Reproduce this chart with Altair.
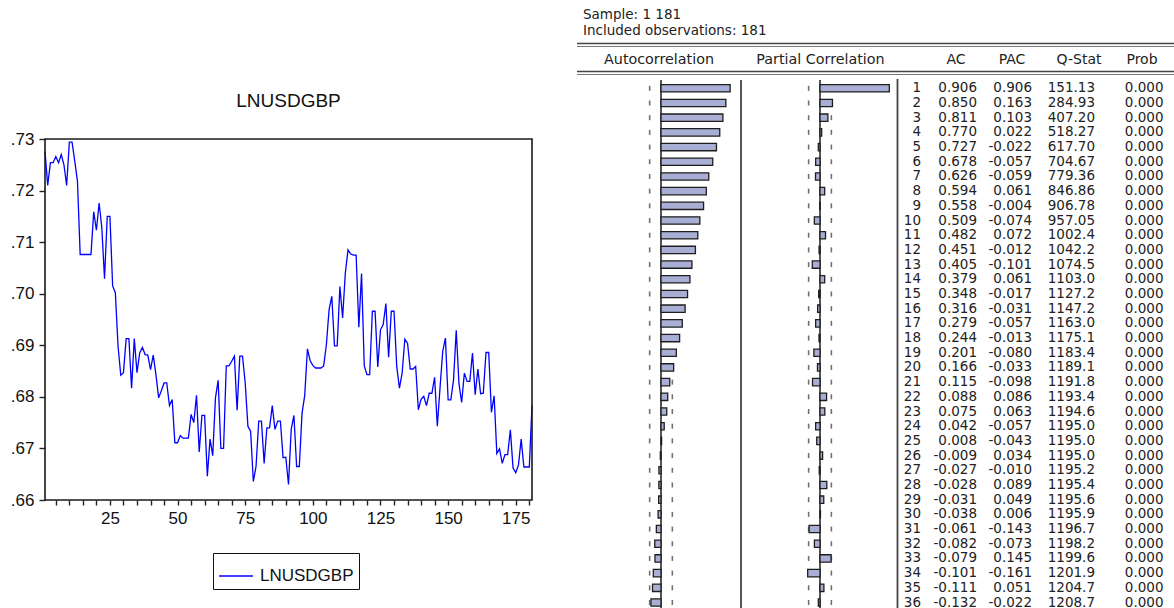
import math
import altair as alt
import pandas as pd

# ---------------------------------------------------------------------------
# Series: LNUSDGBP, observations 1..181
# ---------------------------------------------------------------------------
LNUSDGBP = [
    0.7276, 0.7210, 0.7254, 0.7254, 0.7266, 0.7254, 0.7270, 0.7250, 0.7210, 0.7294,
    0.7294, 0.7257, 0.7218, 0.7076, 0.7076, 0.7076, 0.7076, 0.7076, 0.7159, 0.7123,
    0.7176, 0.7128, 0.7029, 0.7150, 0.7150, 0.7015, 0.7002, 0.6898, 0.6842, 0.6847,
    0.6913, 0.6913, 0.6817, 0.6913, 0.6847, 0.6885, 0.6896, 0.6882, 0.6881, 0.6853,
    0.6881, 0.6843, 0.6798, 0.6812, 0.6827, 0.6827, 0.6783, 0.6795, 0.6711, 0.6711,
    0.6725, 0.6720, 0.6720, 0.6720, 0.6766, 0.6750, 0.6803, 0.6693, 0.6764, 0.6764,
    0.6646, 0.6718, 0.6686, 0.6798, 0.6832, 0.6700, 0.6700, 0.6860, 0.6860, 0.6869,
    0.6879, 0.6774, 0.6879, 0.6879, 0.6827, 0.6743, 0.6733, 0.6636, 0.6665, 0.6753,
    0.6753, 0.6671, 0.6740, 0.6740, 0.6783, 0.6737, 0.6753, 0.6753, 0.6682, 0.6683,
    0.6630, 0.6737, 0.6764, 0.6665, 0.6665, 0.6768, 0.6803, 0.6893, 0.6870, 0.6861,
    0.6856, 0.6856, 0.6856, 0.6860, 0.6901, 0.6969, 0.6995, 0.6899, 0.6899, 0.7014,
    0.6953, 0.7040, 0.7085, 0.7077, 0.7075, 0.7075, 0.6935, 0.7039, 0.6860, 0.6843,
    0.6843, 0.6966, 0.6966, 0.6858, 0.6930, 0.6940, 0.6981, 0.6877, 0.6966, 0.6966,
    0.6859, 0.6817, 0.6846, 0.6912, 0.6904, 0.6854, 0.6854, 0.6859, 0.6775, 0.6795,
    0.6801, 0.6783, 0.6807, 0.6807, 0.6838, 0.6743, 0.6817, 0.6888, 0.6914, 0.6794,
    0.6794, 0.6833, 0.6929, 0.6826, 0.6789, 0.6846, 0.6830, 0.6830, 0.6885, 0.6804,
    0.6854, 0.6806, 0.6807, 0.6886, 0.6886, 0.6770, 0.6802, 0.6690, 0.6699, 0.6671,
    0.6688, 0.6688, 0.6736, 0.6662, 0.6653, 0.6668, 0.6718, 0.6664, 0.6664, 0.6664,
    0.6783,
]
OBS = list(range(1, len(LNUSDGBP) + 1))

X_TICKS = list(range(5, 181, 5))
X_LABELLED = [25, 50, 75, 100, 125, 150, 175]
Y_TICKS = [0.66, 0.67, 0.68, 0.69, 0.70, 0.71, 0.72, 0.73]

# ---------------------------------------------------------------------------
# Correlogram of LNUSDGBP
# ---------------------------------------------------------------------------
LAGS = list(range(1, 37))
AC = [0.906, 0.850, 0.811, 0.770, 0.727, 0.678, 0.626, 0.594, 0.558, 0.509,
      0.482, 0.451, 0.405, 0.379, 0.348, 0.316, 0.279, 0.244, 0.201, 0.166,
      0.115, 0.088, 0.075, 0.042, 0.008, -0.009, -0.027, -0.028, -0.031, -0.038,
      -0.061, -0.082, -0.079, -0.101, -0.111, -0.132]
PAC = [0.906, 0.163, 0.103, 0.022, -0.022, -0.057, -0.059, 0.061, -0.004, -0.074,
       0.072, -0.012, -0.101, 0.061, -0.017, -0.031, -0.057, -0.013, -0.080, -0.033,
       -0.098, 0.086, 0.063, -0.057, -0.043, 0.034, -0.010, 0.089, 0.049, 0.006,
       -0.143, -0.073, 0.145, -0.161, 0.051, -0.022]
QSTAT = [151.13, 284.93, 407.20, 518.27, 617.70, 704.67, 779.36, 846.86, 906.78, 957.05,
         1002.4, 1042.2, 1074.5, 1103.0, 1127.2, 1147.2, 1163.0, 1175.1, 1183.4, 1189.1,
         1191.8, 1193.4, 1194.6, 1195.0, 1195.0, 1195.0, 1195.2, 1195.4, 1195.6, 1195.9,
         1196.7, 1198.2, 1199.6, 1201.9, 1204.7, 1208.7]
PROB = [0.000] * 36

N_OBS = 181
BAND = 2 / math.sqrt(N_OBS)   # approximate 2 s.e. bounds

# ---------------------------------------------------------------------------
# Styling
# ---------------------------------------------------------------------------
W, H = 1174, 608
PLOT_FONT = "Liberation Sans"
TABLE_FONT = "DejaVu Sans"
TXT = "#222222"
BAR_FILL = "#A9AFD4"
BAR_EDGE = "#1e1e1e"
HIDDEN = alt.Axis(labels=False, ticks=False, domain=False, grid=False, title="")
# d3-format writes a typographic minus; the table uses a plain hyphen
MINUS = "\u2212"


def label(text, x, y, size, align="center", font=TABLE_FONT, color=TXT):
    return alt.Chart(pd.DataFrame({"t": [text]})).mark_text(
        align=align, baseline="middle", fontSize=size, font=font, color=color
    ).encode(x=alt.value(x), y=alt.value(y), text="t:N")


def hline(x0, x1, y, width, color):
    return alt.Chart(pd.DataFrame({"t": [0]})).mark_rule(
        strokeWidth=width, color=color
    ).encode(x=alt.value(x0), x2=alt.value(x1), y=alt.value(y))


def vline(x, y0, y1, width, color):
    return alt.Chart(pd.DataFrame({"t": [0]})).mark_rule(
        strokeWidth=width, color=color
    ).encode(x=alt.value(x), y=alt.value(y0), y2=alt.value(y1))


# ---------------------------------------------------------------------------
# Left panel: line plot
# ---------------------------------------------------------------------------
series_df = pd.DataFrame({"obs": OBS, "value": LNUSDGBP, "series": "LNUSDGBP"})
x_line = alt.Scale(domain=[1, 181], range=[45, 532], nice=False, zero=False)
y_line = alt.Scale(domain=[0.66, 0.73], range=[500, 139], nice=False, zero=False)

labelled = ", ".join(str(v) for v in X_LABELLED)
x_axis = alt.Axis(
    orient="bottom", offset=-108, values=X_TICKS, title="",
    labelExpr=f"indexof([{labelled}], datum.value) >= 0 ? datum.label : ''",
    domain=False, grid=False, tickSize=5, tickWidth=1.4, tickColor="#222",
    labelFont=PLOT_FONT, labelFontSize=17, labelColor="#111",
    labelPadding=5, labelFlush=False, labelOverlap=False, labelBound=False,
)
y_axis = alt.Axis(
    orient="left", offset=-45, values=Y_TICKS, title="",
    labelExpr="substring(format(datum.value, '.2f'), 1)",
    domain=False, grid=False, tickSize=6, tickWidth=1.4, tickColor="#222",
    labelFont=PLOT_FONT, labelFontSize=17, labelColor="#111",
    labelPadding=5, labelFlush=False, labelOverlap=False, labelBound=False,
)

line = alt.Chart(series_df).mark_line(strokeWidth=1.3).encode(
    x=alt.X("obs:Q", scale=x_line, axis=x_axis),
    y=alt.Y("value:Q", scale=y_line, axis=y_axis),
    color=alt.Color(
        "series:N", scale=alt.Scale(range=["#0000FF"]),
        legend=alt.Legend(
            title=None, orient="none", legendX=213, legendY=553,
            direction="horizontal", symbolType="stroke", symbolSize=1150,
            symbolStrokeWidth=1.5, labelFont=PLOT_FONT, labelFontSize=17,
            labelColor="#111", labelOffset=6, padding=5,
            strokeColor="#111", fillColor="white",
        ),
    ),
)

frame_df = pd.DataFrame({"obs": [1], "obs_end": [181], "value": [0.66], "value_end": [0.73]})
frame = alt.Chart(frame_df).mark_rect(
    fillOpacity=0, stroke="#1a1a1a", strokeWidth=1.6
).encode(
    x=alt.X("obs:Q", scale=x_line, axis=x_axis),
    x2="obs_end:Q",
    y=alt.Y("value:Q", scale=y_line, axis=y_axis),
    y2="value_end:Q",
)

plot_title = label("LNUSDGBP", 288.5, 101, 19, font=PLOT_FONT, color="#111")

left_panel = alt.layer(line, frame, plot_title)

# ---------------------------------------------------------------------------
# Right panel: correlogram table
# ---------------------------------------------------------------------------
corr_df = pd.DataFrame({"lag": LAGS, "ac": AC, "pac": PAC, "q": QSTAT, "prob": PROB})
band_df = pd.DataFrame({
    "lag": LAGS * 2,
    "band": [-BAND] * len(LAGS) + [BAND] * len(LAGS),
})
zero_df = pd.DataFrame({"z": [0.0]})
row_scale = alt.Scale(domain=[1, 36], range=[88.3, 602.5], nice=False, zero=False)


def corr_column(field, center, half_width):
    xs = alt.Scale(domain=[-1, 1], range=[center - half_width, center + half_width],
                   nice=False, zero=False)
    ticks = alt.Chart(band_df).mark_tick(
        orient="vertical", size=5, thickness=1.6, color="#333"
    ).encode(
        x=alt.X("band:Q", scale=xs, axis=HIDDEN),
        y=alt.Y("lag:Q", scale=row_scale, axis=HIDDEN),
    )
    zero_line = alt.Chart(zero_df).mark_rule(strokeWidth=1.6, color="#2a2a2a").encode(
        x=alt.X("z:Q", scale=xs, axis=HIDDEN), y=alt.value(80), y2=alt.value(H)
    )
    bars = alt.Chart(corr_df).transform_calculate(
        base="0", lo="datum.lag - 0.25", hi="datum.lag + 0.25"
    ).mark_rect(fill=BAR_FILL, stroke=BAR_EDGE, strokeWidth=1.3).encode(
        x=alt.X(f"{field}:Q", scale=xs, axis=HIDDEN),
        x2="base:Q",
        y=alt.Y("lo:Q", scale=row_scale, axis=HIDDEN),
        y2="hi:Q",
    )
    return [ticks, zero_line, bars]


def number_column(expr, x_right):
    return alt.Chart(corr_df).transform_calculate(
        s=f"replace({expr}, '{MINUS}', '-')"
    ).mark_text(
        align="right", baseline="middle", font=TABLE_FONT, fontSize=13.5, color=TXT
    ).encode(
        x=alt.value(x_right),
        y=alt.Y("lag:Q", scale=row_scale, axis=HIDDEN),
        text="s:N",
    )


numbers = [
    number_column("format(datum.lag, 'd')", 921),
    number_column("format(datum.ac, '.3f')", 977),
    number_column("format(datum.pac, '.3f')", 1032),
    number_column("datum.q >= 1000 ? format(datum.q, '.1f') : format(datum.q, '.2f')", 1095),
    number_column("format(datum.prob, '.3f')", 1163.5),
]

table_frame = [
    label("Sample: 1 181", 583, 15, 13.5, align="left"),
    label("Included observations: 181", 583, 30.5, 13.5, align="left"),
    hline(577, W, 43.5, 1.6, "#444"),
    hline(577, W, 46.5, 1.0, "#777"),
    label("Autocorrelation", 659, 60, 14.3),
    label("Partial Correlation", 820.5, 60, 14.3),
    label("AC", 956, 60, 14),
    label("PAC", 1012, 60, 14),
    label("Q-Stat", 1079, 60, 14),
    label("Prob", 1142, 60, 14),
    hline(577, W, 71.5, 1.6, "#444"),
    hline(577, W, 74.5, 1.0, "#777"),
    vline(741, 80, H, 1.8, "#444"),
    vline(897.5, 79, H, 1.8, "#444"),
]

ac_panel = alt.layer(*corr_column("ac", 661, 76.3), *numbers, *table_frame)
pac_panel = alt.layer(*corr_column("pac", 820, 76.5))

chart = alt.layer(
    left_panel, ac_panel, pac_panel
).resolve_scale(
    x="independent", y="independent"
).properties(
    width=W, height=H,
    autosize=alt.AutoSizeParams(type="none"),
    padding=0,
).configure_view(stroke="transparent")

chart.save("out.html", embed_options={"renderer": "svg", "actions": False})
